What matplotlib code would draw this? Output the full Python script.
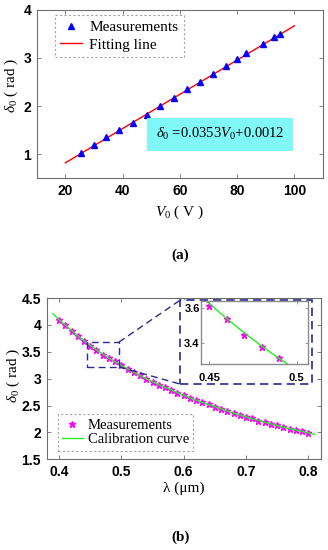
import matplotlib
matplotlib.use("Agg")
import matplotlib.pyplot as plt
from matplotlib.patches import Rectangle

plt.rcParams['mathtext.fontset'] = 'custom'
plt.rcParams['mathtext.rm'] = 'Liberation Serif'
plt.rcParams['mathtext.it'] = 'Liberation Serif:italic'
plt.rcParams['mathtext.bf'] = 'Liberation Serif:bold'

# ---------------- data (a) ----------------
volt = [25.5, 30, 34.3, 38.8, 43.7, 48.4, 53, 57.9, 62.4, 67, 71.5, 76, 80, 83, 89, 93, 95]
delta_meas_a = [1.03, 1.19, 1.36, 1.50, 1.65, 1.81, 2.00, 2.17, 2.35, 2.51, 2.67, 2.83,
                2.97, 3.10, 3.29, 3.43, 3.49]
fit_v = [20, 100]
fit_delta = [0.82, 3.67]
xticks_a = [20, 40, 60, 80, 100]
yticks_a = [1, 2, 3, 4]

# ---------------- data (b) ----------------
lam_curve = [0.39, 0.40, 0.41, 0.42, 0.43, 0.44, 0.45, 0.46, 0.47, 0.48, 0.49, 0.50,
             0.51, 0.52, 0.53, 0.54, 0.55, 0.56, 0.57, 0.58, 0.59, 0.60, 0.61, 0.62,
             0.63, 0.64, 0.65, 0.66, 0.67, 0.68, 0.69, 0.70, 0.71, 0.72, 0.73, 0.74,
             0.75, 0.76, 0.77, 0.78, 0.79, 0.80, 0.81]
delta_curve = [4.21, 4.10, 4.00, 3.90, 3.80, 3.71, 3.625, 3.54, 3.46, 3.385, 3.315, 3.25,
               3.185, 3.12, 3.06, 3.00, 2.945, 2.89, 2.84, 2.79, 2.74, 2.69, 2.645, 2.60,
               2.56, 2.52, 2.48, 2.44, 2.40, 2.36, 2.325, 2.29, 2.255, 2.225, 2.19, 2.16,
               2.13, 2.10, 2.07, 2.045, 2.02, 1.99, 1.96]
lam_meas = [0.40, 0.41, 0.42, 0.43, 0.44, 0.45, 0.46, 0.47, 0.48, 0.49, 0.50,
            0.51, 0.52, 0.53, 0.54, 0.55, 0.56, 0.57, 0.58, 0.59, 0.60, 0.61, 0.62,
            0.63, 0.64, 0.65, 0.66, 0.67, 0.68, 0.69, 0.70, 0.71, 0.72, 0.73, 0.74,
            0.75, 0.76, 0.77, 0.78, 0.79, 0.80]
delta_meas_b = [4.10, 4.00, 3.89, 3.79, 3.70, 3.61, 3.54, 3.45, 3.38, 3.32, 3.25,
                3.18, 3.12, 3.06, 3.00, 2.94, 2.89, 2.84, 2.79, 2.74, 2.69, 2.64, 2.60,
                2.56, 2.52, 2.48, 2.44, 2.40, 2.36, 2.32, 2.29, 2.26, 2.22, 2.19, 2.16,
                2.13, 2.10, 2.07, 2.04, 2.02, 1.99]
xticks_b = [0.4, 0.5, 0.6, 0.7, 0.8]
yticks_b = [1.5, 2, 2.5, 3, 3.5, 4, 4.5]
xticks_in = [0.45, 0.5]
yticks_in = [3.4, 3.6]

FRAME = '#6e6e6e'
NAVY = '#2b2b8f'
SERIF = 'Liberation Serif'
SANS = 'Liberation Sans'

fig = plt.figure(figsize=(3.28, 5.5), dpi=100)


def style_axes(ax, fs):
    for s in ax.spines.values():
        s.set_color(FRAME)
        s.set_linewidth(0.8)
    ax.tick_params(direction='in', top=True, right=True, length=3, width=0.6,
                   color=FRAME, labelsize=fs, pad=4)
    for lab in ax.get_xticklabels() + ax.get_yticklabels():
        lab.set_fontfamily(SANS)
        lab.set_fontweight('bold')


# ================= (a) =================
axa = fig.add_axes([0.112, 0.676, 0.873, 0.306])
axa.plot(fit_v, fit_delta, color='red', lw=1.0, label='Fitting line', zorder=2)
axa.plot(volt, delta_meas_a, linestyle='none', marker='^', color='blue', ms=5,
         label='Measurements', zorder=3)
axa.set_xlim(10, 110)
axa.set_ylim(0.5, 4)
axa.set_xticks(xticks_a)
axa.set_yticks(yticks_a)
axa.set_xticklabels([str(v) for v in xticks_a])
axa.set_yticklabels([str(v) for v in yticks_a])
style_axes(axa, 10)
axa.set_xlabel(r'$\mathit{V}_{0}$ ( V )', fontfamily=SERIF, fontsize=11, labelpad=4)
axa.set_ylabel(r'$\mathit{\delta}_{0}$ ( rad )', fontfamily=SERIF, fontsize=11, labelpad=3)
axa.yaxis.set_label_coords(-0.06, 0.55)
h, l = axa.get_legend_handles_labels()
lega = axa.legend([h[1], h[0]], [l[1], l[0]], loc='upper left',
                  bbox_to_anchor=(0.064, 0.97), prop={'family': SERIF, 'size': 11},
                  fancybox=False, edgecolor='#8c8c8c', handlelength=1.4,
                  borderpad=0.35, labelspacing=0.25, handletextpad=0.5,
                  borderaxespad=0)
lega.get_frame().set_linestyle((0, (2, 2)))
lega.get_frame().set_linewidth(0.8)
axa.text(74, 1.41, r'$\mathit{\delta}_{0}$ =0.0353$\mathit{V}_{0}$+0.0012',
         fontfamily=SERIF, fontsize=10.5, ha='center', va='center',
         bbox=dict(boxstyle='square,pad=0.6', facecolor='#80f8f8', edgecolor='none'))
fig.text(0.549, 0.535, '(a)', fontfamily=SERIF, fontweight='bold', fontsize=11,
         ha='center', va='center')

# ================= (b) =================
axb = fig.add_axes([0.142, 0.165, 0.836, 0.293])
axb.plot(lam_meas, delta_meas_b, linestyle='none', marker='*', color='#ff00ff', ms=5,
         label='Measurements', zorder=2)
axb.plot(lam_curve, delta_curve, color='#22ee22', lw=1.0, label='Calibration curve',
         zorder=3)
axb.set_xlim(0.38, 0.82)
axb.set_ylim(1.5, 4.5)
axb.set_xticks(xticks_b)
axb.set_yticks(yticks_b)
axb.set_xticklabels([f'{v:g}' for v in xticks_b])
axb.set_yticklabels([f'{v:g}' for v in yticks_b])
style_axes(axb, 10)
axb.set_xlabel('λ (μm)', fontfamily=SERIF, fontsize=11, labelpad=2)
axb.set_ylabel(r'$\mathit{\delta}_{0}$ ( rad )', fontfamily=SERIF, fontsize=11, labelpad=1)
axb.yaxis.set_label_coords(-0.09, 0.52)
legb = axb.legend(loc='lower left', bbox_to_anchor=(0.041, 0.053),
                  prop={'family': SERIF, 'size': 10.5}, fancybox=False,
                  edgecolor='#8c8c8c', handlelength=1.4, borderpad=0.3,
                  labelspacing=0.1, handletextpad=0.35, borderaxespad=0)
legb.get_frame().set_linestyle((0, (2, 2)))
legb.get_frame().set_linewidth(0.8)

# zoom rectangle, outer dashed box and connectors
zx0, zx1, zy0, zy1 = 0.445, 0.496, 3.22, 3.68
ox0, ox1, oy0, oy1 = 0.594, 0.806, 2.90, 4.46
dash = (0, (5, 3))
axb.add_patch(Rectangle((zx0, zy0), zx1 - zx0, zy1 - zy0, fill=False,
                        edgecolor=NAVY, lw=1.0, linestyle=dash, zorder=4))
axb.add_patch(Rectangle((ox0, oy0), ox1 - ox0, oy1 - oy0, facecolor='white',
                        edgecolor=NAVY, lw=1.2, linestyle=dash, zorder=4))
axb.plot([zx1, ox0], [zy1, oy1], color=NAVY, lw=1.0, linestyle=dash, zorder=4)
axb.plot([zx1, ox0], [zy0, oy0], color=NAVY, lw=1.0, linestyle=dash, zorder=4)

# inset
axi = fig.add_axes([0.613, 0.339, 0.327, 0.113], zorder=5)
axi.plot(lam_meas, delta_meas_b, linestyle='none', marker='*', color='#ff00ff', ms=5)
axi.plot(lam_curve, delta_curve, color='#22ee22', lw=1.0)
axi.set_xlim(0.4453, 0.5066)
axi.set_ylim(3.287, 3.637)
axi.set_xticks(xticks_in)
axi.set_yticks(yticks_in)
axi.set_xticklabels([f'{v:g}' for v in xticks_in])
axi.set_yticklabels([f'{v:g}' for v in yticks_in])
for s in axi.spines.values():
    s.set_color('#8c8c8c')
    s.set_linewidth(1.0)
axi.tick_params(direction='in', top=True, right=True, length=2.5, width=0.6,
                color='#8c8c8c', labelsize=8, pad=3)
for lab in axi.get_xticklabels() + axi.get_yticklabels():
    lab.set_fontfamily(SANS)
    lab.set_fontweight('bold')
axi.tick_params(axis='x', pad=7)
axi.tick_params(axis='y', pad=1)

fig.text(0.549, 0.024, '(b)', fontfamily=SERIF, fontweight='bold', fontsize=11,
         ha='center', va='center')

fig.savefig('out.png', dpi=100)
